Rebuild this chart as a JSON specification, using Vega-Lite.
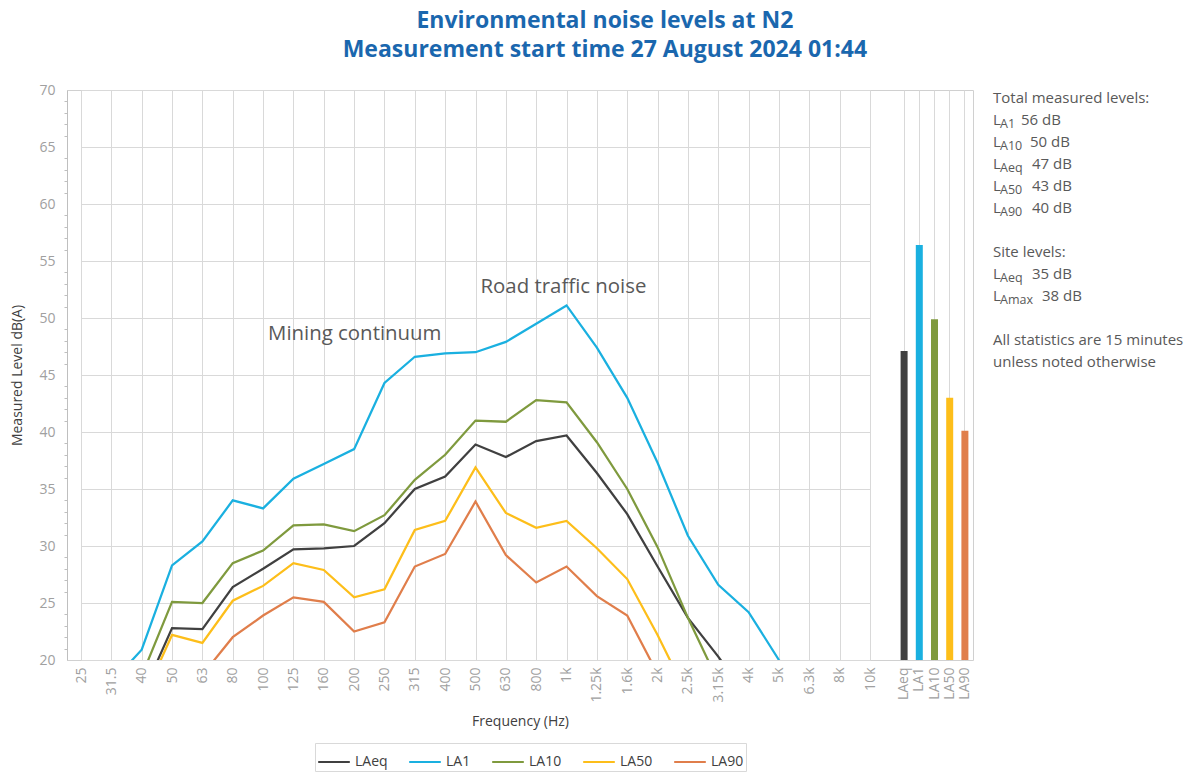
{
  "$schema": "https://vega.github.io/schema/vega-lite/v6.json",
  "background": "white",
  "padding": {"left": 10, "top": 9, "right": 5, "bottom": 5},
  "title": {
    "text": ["Environmental noise levels at N2", "Measurement start time 27 August 2024 01:44"],
    "anchor": "middle",
    "font": "Open Sans",
    "fontSize": 23,
    "fontWeight": "bold",
    "color": "#1A67AE",
    "lineHeight": 29,
    "offset": 21,
    "dx": 8
  },
  "datasets": {
    "bands": [
      {"band": "25", "LAeq": 13, "LA1": 15, "LA10": 14, "LA50": 12, "LA90": 10},
      {"band": "31.5", "LAeq": 14.5, "LA1": 18.0, "LA10": 16, "LA50": 13.5, "LA90": 12},
      {"band": "40", "LAeq": 16.8, "LA1": 20.9, "LA10": 18.6, "LA50": 16.3, "LA90": 14},
      {"band": "50", "LAeq": 22.8, "LA1": 28.3, "LA10": 25.1, "LA50": 22.2, "LA90": 17.5},
      {"band": "63", "LAeq": 22.7, "LA1": 30.4, "LA10": 25.0, "LA50": 21.5, "LA90": 18.7},
      {"band": "80", "LAeq": 26.4, "LA1": 34.0, "LA10": 28.5, "LA50": 25.2, "LA90": 22.0},
      {"band": "100", "LAeq": 28.0, "LA1": 33.3, "LA10": 29.6, "LA50": 26.5, "LA90": 23.9},
      {"band": "125", "LAeq": 29.7, "LA1": 35.9, "LA10": 31.8, "LA50": 28.5, "LA90": 25.5},
      {"band": "160", "LAeq": 29.8, "LA1": 37.2, "LA10": 31.9, "LA50": 27.9, "LA90": 25.1},
      {"band": "200", "LAeq": 30.0, "LA1": 38.5, "LA10": 31.3, "LA50": 25.5, "LA90": 22.5},
      {"band": "250", "LAeq": 32.0, "LA1": 44.3, "LA10": 32.7, "LA50": 26.2, "LA90": 23.3},
      {"band": "315", "LAeq": 35.0, "LA1": 46.6, "LA10": 35.8, "LA50": 31.4, "LA90": 28.2},
      {"band": "400", "LAeq": 36.1, "LA1": 46.9, "LA10": 38.0, "LA50": 32.2, "LA90": 29.3},
      {"band": "500", "LAeq": 38.9, "LA1": 47.0, "LA10": 41.0, "LA50": 36.9, "LA90": 33.9},
      {"band": "630", "LAeq": 37.8, "LA1": 47.9, "LA10": 40.9, "LA50": 32.9, "LA90": 29.2},
      {"band": "800", "LAeq": 39.2, "LA1": 49.5, "LA10": 42.8, "LA50": 31.6, "LA90": 26.8},
      {"band": "1k", "LAeq": 39.7, "LA1": 51.1, "LA10": 42.6, "LA50": 32.2, "LA90": 28.2},
      {"band": "1.25k", "LAeq": 36.4, "LA1": 47.4, "LA10": 39.1, "LA50": 29.8, "LA90": 25.6},
      {"band": "1.6k", "LAeq": 32.8, "LA1": 43.0, "LA10": 35.0, "LA50": 27.1, "LA90": 23.9},
      {"band": "2k", "LAeq": 28.2, "LA1": 37.3, "LA10": 29.9, "LA50": 22.2, "LA90": 18.8},
      {"band": "2.5k", "LAeq": 23.7, "LA1": 30.9, "LA10": 23.7, "LA50": 16.8, "LA90": 15},
      {"band": "3.15k", "LAeq": 20.3, "LA1": 26.6, "LA10": 18.1, "LA50": 14, "LA90": 13},
      {"band": "4k", "LAeq": 16.5, "LA1": 24.2, "LA10": 15, "LA50": 12, "LA90": 11},
      {"band": "5k", "LAeq": 14, "LA1": 20.0, "LA10": 13, "LA50": 10, "LA90": 9},
      {"band": "6.3k", "LAeq": 12, "LA1": 16.0, "LA10": 11, "LA50": 9, "LA90": 8},
      {"band": "8k", "LAeq": 10, "LA1": 14, "LA10": 10, "LA50": 8, "LA90": 7},
      {"band": "10k", "LAeq": 9, "LA1": 12, "LA10": 9, "LA50": 7, "LA90": 6}
    ],
    "totals": [
      {"series": "LAeq", "level": 47.1},
      {"series": "LA1", "level": 56.4},
      {"series": "LA10", "level": 49.9},
      {"series": "LA50", "level": 43.0},
      {"series": "LA90", "level": 40.1}
    ],
    "notes": [
      {"band": "100", "level": 48.6, "label": "Mining continuum"},
      {"band": "500", "level": 52.7, "label": "Road traffic noise"}
    ],
    "side": [
      {"line": 0, "head": "Total measured levels:"},
      {"line": 1, "sub": "A1", "val": "56 dB"},
      {"line": 2, "sub": "A10", "val": "50 dB"},
      {"line": 3, "sub": "Aeq", "val": "47 dB"},
      {"line": 4, "sub": "A50", "val": "43 dB"},
      {"line": 5, "sub": "A90", "val": "40 dB"},
      {"line": 7, "head": "Site levels:"},
      {"line": 8, "sub": "Aeq", "val": "35 dB"},
      {"line": 9, "sub": "Amax", "val": "38 dB"},
      {"line": 11, "head": "All statistics are 15 minutes"},
      {"line": 12, "head": "unless noted otherwise"}
    ]
  },
  "spacing": 19,
  "hconcat": [
    {
      "width": 906,
      "height": 570,
      "layer": [
        {
          "data": {"name": "bands"},
          "transform": [{"fold": ["LAeq", "LA1", "LA10", "LA50", "LA90"], "as": ["series", "level"]}],
          "mark": {"type": "line", "clip": true, "strokeWidth": 2.25},
          "encoding": {
            "x": {
              "field": "band", "type": "ordinal",
              "sort": ["25","31.5","40","50","63","80","100","125","160","200","250","315","400","500","630","800","1k","1.25k","1.6k","2k","2.5k","3.15k","4k","5k","6.3k","8k","10k"],
              "scale": {"type": "point", "range": [14, 803], "padding": 0},
              "axis": {"orient": "bottom", "labelAngle": -90, "labelAlign": "right", "labelBaseline": "middle", "ticks": false, "domain": false, "grid": true, "labelPadding": 7, "labelFontSize": 14, "title": "Frequency (Hz)", "titleFontSize": 14, "titleX": 453, "titlePadding": 12}
            },
            "y": {
              "field": "level", "type": "quantitative",
              "scale": {"domain": [20, 70], "nice": false, "zero": false},
              "axis": {
                "orient": "left",
                "title": "Measured Level dB(A)",
                "values": [20, 25, 30, 35, 40, 45, 50, 55, 60, 65, 70],
                "ticks": false, "domainColor": "#bfbfbf",
                "labelPadding": 12, "labelFontSize": 14, "titleFontSize": 14, "titlePadding": 14
              }
            },
            "color": {
              "field": "series", "type": "nominal",
              "scale": {"domain": ["LAeq", "LA1", "LA10", "LA50", "LA90"], "range": ["#404040", "#1AB0E0", "#7F9A3E", "#FDBE1A", "#E07E4B"]},
              "legend": {"orient": "none", "legendX": 248, "legendY": 653, "direction": "horizontal", "title": null, "symbolType": "stroke", "symbolSize": 1000, "symbolStrokeWidth": 2, "labelFontSize": 14, "labelColor": "#404040", "columnPadding": 17, "strokeColor": "#d9d9d9", "padding": 2}
            },
            "order": {"value": null}
          }
        },
        {
          "data": {"name": "notes"},
          "mark": {"type": "text", "align": "left", "baseline": "middle", "dx": 5, "fontSize": 20.4, "color": "#595959"},
          "encoding": {
            "x": {
              "field": "band", "type": "ordinal",
              "scale": {"type": "point", "range": [14, 803], "padding": 0, "domain": ["25","31.5","40","50","63","80","100","125","160","200","250","315","400","500","630","800","1k","1.25k","1.6k","2k","2.5k","3.15k","4k","5k","6.3k","8k","10k"]},
              "axis": null
            },
            "y": {
              "field": "level", "type": "quantitative",
              "axis": {
                "orient": "left", "title": null, "labels": false, "grid": false, "domain": false,
                "values": [21,22,23,24,26,27,28,29,31,32,33,34,36,37,38,39,41,42,43,44,46,47,48,49,51,52,53,54,56,57,58,59,61,62,63,64,66,67,68,69],
                "tickSize": 3, "tickColor": "#bfbfbf"
              }
            },
            "text": {"field": "label"}
          }
        },
        {
          "data": {"name": "totals"},
          "mark": {"type": "bar", "width": 7, "clip": true},
          "encoding": {
            "x": {
              "field": "series", "type": "nominal",
              "sort": ["LAeq", "LA1", "LA10", "LA50", "LA90"],
              "scale": {"type": "band", "range": [829.5, 905.5], "paddingInner": 0, "paddingOuter": 0},
              "axis": {"orient": "bottom", "labelAngle": -90, "labelAlign": "right", "labelBaseline": "middle", "ticks": false, "domain": false, "grid": true, "labelPadding": 7, "labelFontSize": 14, "title": null}
            },
            "y": {"field": "level", "type": "quantitative", "axis": null},
            "color": {"field": "series", "type": "nominal"}
          }
        }
      ],
      "resolve": {"scale": {"x": "independent"}, "axis": {"x": "independent", "y": "independent"}}
    },
    {
      "width": 190,
      "height": 570,
      "view": {"stroke": null},
      "data": {"name": "side"},
      "encoding": {
        "y": {"field": "line", "type": "quantitative", "scale": {"domain": [-0.364, 25.545], "reverse": true, "nice": false, "zero": false}, "axis": null},
        "x": {"datum": 0, "type": "quantitative", "scale": {"domain": [0, 1]}, "axis": null}
      },
      "layer": [
        {
          "transform": [{"filter": "datum.head != null"}],
          "mark": {"type": "text", "align": "left", "baseline": "middle", "fontSize": 15, "color": "#595959"},
          "encoding": {"text": {"field": "head"}}
        },
        {
          "transform": [{"filter": "datum.sub != null"}],
          "mark": {"type": "text", "text": "L", "align": "left", "baseline": "middle", "fontSize": 15, "color": "#595959"}
        },
        {
          "transform": [{"filter": "datum.sub != null"}],
          "mark": {"type": "text", "align": "left", "baseline": "middle", "dx": 7, "dy": 4, "fontSize": 12.5, "color": "#595959"},
          "encoding": {"text": {"field": "sub"}}
        },
        {
          "transform": [{"filter": "datum.sub === 'A1'"}],
          "mark": {"type": "text", "align": "left", "baseline": "middle", "dx": 28, "fontSize": 15, "color": "#595959"},
          "encoding": {"text": {"field": "val"}}
        },
        {
          "transform": [{"filter": "datum.sub === 'A10'"}],
          "mark": {"type": "text", "align": "left", "baseline": "middle", "dx": 37, "fontSize": 15, "color": "#595959"},
          "encoding": {"text": {"field": "val"}}
        },
        {
          "transform": [{"filter": "datum.sub === 'Aeq' || datum.sub === 'A50' || datum.sub === 'A90'"}],
          "mark": {"type": "text", "align": "left", "baseline": "middle", "dx": 39, "fontSize": 15, "color": "#595959"},
          "encoding": {"text": {"field": "val"}}
        },
        {
          "transform": [{"filter": "datum.sub === 'Amax'"}],
          "mark": {"type": "text", "align": "left", "baseline": "middle", "dx": 49, "fontSize": 15, "color": "#595959"},
          "encoding": {"text": {"field": "val"}}
        }
      ]
    }
  ],
  "config": {
    "font": "Open Sans",
    "view": {"stroke": "#d0d0d0"},
    "axis": {"gridColor": "#d9d9d9", "labelColor": "#a0a0a0", "titleColor": "#404040", "titleFontWeight": "normal"}
  }
}
